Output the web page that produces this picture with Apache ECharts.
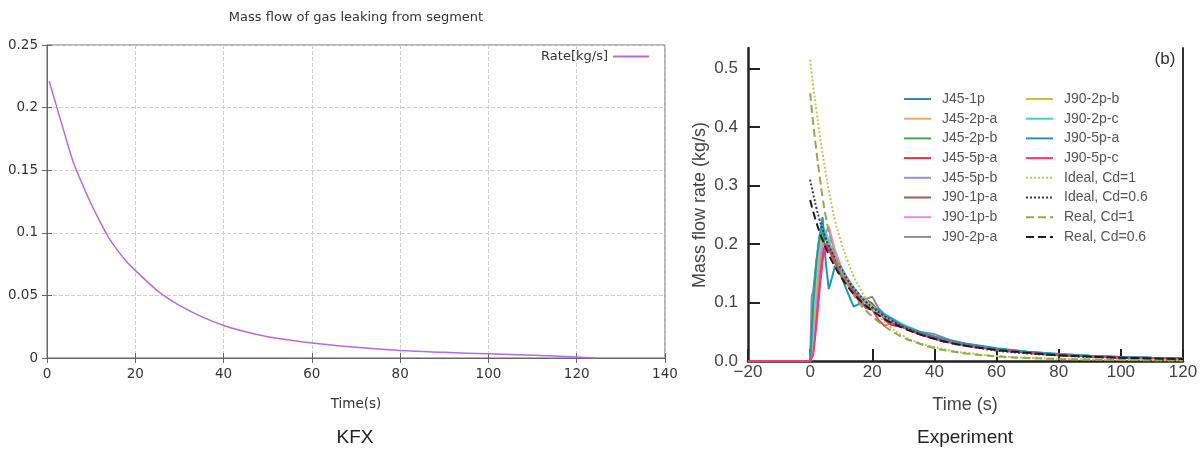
<!DOCTYPE html>
<html>
<head>
<meta charset="utf-8">
<script src="https://cdn.jsdelivr.net/npm/echarts@6/dist/echarts.min.js"></script>
<style>
html,body{margin:0;padding:0;background:#fff;}
#chart{width:1203px;height:452px;}
</style>
</head>
<body>
<div id="chart"></div>
<script>
// ---------- Left chart (KFX) ----------
const kfxTime = [0.5, 2, 4, 6, 8, 10, 12, 14, 16, 18, 20, 23, 26, 30, 35, 40, 45, 50, 55, 60, 70, 80, 90, 100, 110, 120, 124];
const kfxRate = [0.221, 0.203, 0.179, 0.156, 0.139, 0.123, 0.109, 0.096, 0.086, 0.077, 0.070, 0.060, 0.051, 0.042, 0.033, 0.026, 0.021, 0.017, 0.0143, 0.012, 0.0085, 0.006, 0.0045, 0.0033, 0.0022, 0.0008, 0.0];
const kfxXTicks = [0, 20, 40, 60, 80, 100, 120, 140];
const kfxYTicks = [0, 0.05, 0.1, 0.15, 0.2, 0.25];

// ---------- Right chart (Experiment) ----------
const expTime = [-20, -1, 0, 0.5, 1, 2, 3, 4, 5, 6, 7, 8, 10, 12, 14, 16, 18, 20, 22, 24, 26, 28, 30, 35, 40, 45, 50, 60, 70, 80, 90, 100, 110, 120];
const J45_1p  = [0,0,0,0.02,0.06,0.14,0.20,0.225,0.215,0.20,0.188,0.176,0.155,0.136,0.120,0.108,0.099,0.091,0.083,0.076,0.070,0.064,0.059,0.048,0.040,0.033,0.028,0.020,0.014,0.011,0.008,0.0065,0.005,0.0045];
const J45_2p_a= [0,0,0,0.01,0.05,0.12,0.18,0.21,0.215,0.205,0.19,0.178,0.157,0.138,0.121,0.107,0.097,0.088,0.082,0.075,0.069,0.063,0.058,0.047,0.039,0.032,0.027,0.019,0.014,0.010,0.008,0.006,0.005,0.004];
const J45_2p_b= [0,0,0,0.02,0.07,0.15,0.20,0.215,0.21,0.20,0.19,0.178,0.158,0.140,0.124,0.110,0.100,0.092,0.086,0.079,0.072,0.066,0.060,0.049,0.040,0.034,0.028,0.020,0.015,0.011,0.008,0.0065,0.005,0.0045];
const J45_5p_a= [0,0,0,0,0.02,0.08,0.14,0.185,0.20,0.19,0.18,0.17,0.15,0.132,0.118,0.100,0.092,0.090,0.088,0.070,0.062,0.060,0.057,0.046,0.038,0.032,0.027,0.019,0.014,0.010,0.008,0.006,0.005,0.004];
const J45_5p_b= [0,0,0,0.01,0.04,0.10,0.16,0.20,0.22,0.225,0.205,0.185,0.160,0.140,0.123,0.110,0.100,0.093,0.085,0.078,0.072,0.066,0.060,0.048,0.040,0.033,0.028,0.020,0.015,0.011,0.008,0.0065,0.005,0.0045];
const J90_1p_a= [0,0,0,0.03,0.08,0.16,0.21,0.22,0.21,0.195,0.18,0.168,0.148,0.132,0.118,0.108,0.105,0.098,0.085,0.072,0.064,0.062,0.058,0.048,0.040,0.033,0.028,0.020,0.015,0.011,0.008,0.0065,0.005,0.004];
const J90_1p_b= [0,0,0,0.01,0.05,0.12,0.18,0.21,0.22,0.23,0.21,0.19,0.160,0.140,0.125,0.112,0.100,0.090,0.082,0.076,0.070,0.064,0.058,0.048,0.040,0.033,0.028,0.020,0.015,0.011,0.008,0.0065,0.005,0.0045];
const J90_2p_a= [0,0,0,0.11,0.12,0.17,0.21,0.225,0.215,0.20,0.185,0.172,0.152,0.134,0.120,0.108,0.106,0.110,0.090,0.080,0.072,0.066,0.060,0.050,0.046,0.036,0.029,0.021,0.015,0.011,0.008,0.0065,0.005,0.0045];
const J90_2p_b= [0,0,0,0.02,0.06,0.14,0.195,0.215,0.21,0.20,0.19,0.178,0.158,0.140,0.125,0.112,0.102,0.094,0.086,0.079,0.072,0.066,0.061,0.050,0.041,0.034,0.028,0.020,0.015,0.011,0.008,0.0065,0.005,0.0045];
const J90_2p_c= [0,0,0,0.03,0.09,0.17,0.215,0.23,0.22,0.205,0.19,0.178,0.160,0.142,0.125,0.112,0.100,0.092,0.087,0.080,0.074,0.068,0.062,0.051,0.042,0.035,0.029,0.021,0.016,0.012,0.009,0.007,0.0055,0.005];
const J90_5p_a= [0,0,0,0.05,0.10,0.17,0.21,0.246,0.17,0.123,0.142,0.163,0.145,0.118,0.093,0.098,0.095,0.090,0.088,0.078,0.073,0.066,0.060,0.050,0.042,0.035,0.030,0.022,0.016,0.012,0.009,0.007,0.0055,0.005];
const J90_5p_c= [0,0,0,0,0.01,0.06,0.12,0.17,0.20,0.195,0.185,0.172,0.152,0.135,0.120,0.105,0.090,0.088,0.070,0.060,0.065,0.063,0.058,0.047,0.039,0.032,0.027,0.019,0.014,0.010,0.008,0.006,0.005,0.004];

const modelTime = [0, 1, 2, 3, 4, 5, 6, 7, 8, 10, 12, 14, 16, 18, 20, 23, 26, 30, 35, 40, 45, 50, 60, 70, 80, 90, 100, 110, 120];
const idealCd1  = [0.515,0.47,0.43,0.39,0.355,0.322,0.292,0.265,0.24,0.203,0.172,0.145,0.125,0.106,0.090,0.072,0.057,0.043,0.031,0.024,0.018,0.014,0.0085,0.0055,0.0038,0.0027,0.002,0.0015,0.0011];
const idealCd06 = [0.31,0.285,0.262,0.242,0.225,0.21,0.197,0.186,0.176,0.158,0.140,0.125,0.112,0.101,0.092,0.080,0.070,0.058,0.047,0.038,0.031,0.026,0.018,0.013,0.0095,0.007,0.0055,0.0043,0.0034];
const realCd1   = [0.458,0.405,0.36,0.318,0.28,0.248,0.222,0.20,0.182,0.153,0.131,0.113,0.098,0.086,0.076,0.063,0.052,0.040,0.030,0.022,0.017,0.013,0.008,0.005,0.0035,0.0025,0.0018,0.0013,0.001];
const realCd06  = [0.275,0.255,0.237,0.221,0.207,0.194,0.182,0.171,0.161,0.143,0.128,0.115,0.104,0.094,0.086,0.075,0.066,0.056,0.046,0.038,0.031,0.026,0.019,0.014,0.010,0.0075,0.0057,0.0044,0.0034];
const expXTicks = [-20, 0, 20, 40, 60, 80, 100, 120];
const expYTicks = [0, 0.1, 0.2, 0.3, 0.4, 0.5];

const expSeriesDefs = [
  ['J45-1p', J45_1p, '#3d80c0'],
  ['J45-2p-a', J45_2p_a, '#f3a46c'],
  ['J45-2p-b', J45_2p_b, '#42a852'],
  ['J45-5p-a', J45_5p_a, '#d8344c'],
  ['J45-5p-b', J45_5p_b, '#a08ed4'],
  ['J90-1p-a', J90_1p_a, '#9c5f58'],
  ['J90-1p-b', J90_1p_b, '#e88ad2'],
  ['J90-2p-a', J90_2p_a, '#8e8e8e'],
  ['J90-2p-b', J90_2p_b, '#c9c240'],
  ['J90-2p-c', J90_2p_c, '#3ccfdc'],
  ['J90-5p-a', J90_5p_a, '#2197ae'],
  ['J90-5p-c', J90_5p_c, '#ee3f6c']
];
const modelDefs = [
  ['Ideal, Cd=1', idealCd1, '#c4c455', 'dotted'],
  ['Ideal, Cd=0.6', idealCd06, '#3a3a58', 'dotted'],
  ['Real, Cd=1', realCd1, '#98a64c', 'dashed'],
  ['Real, Cd=0.6', realCd06, '#1e1e1e', 'dashed']
];

const zip = (xs, ys) => xs.map((x, i) => [x, ys[i]]);
const chart = echarts.init(document.getElementById('chart'));

const gnuFont = 'DejaVu Sans';
const armFont = 'Liberation Sans, Arial, sans-serif';

const series = [];
series.push({
  name: 'Rate[kg/s]', type: 'line', xAxisIndex: 0, yAxisIndex: 0,
  data: zip(kfxTime, kfxRate), symbol: 'none', smooth: 0.4,
  lineStyle: { color: '#b46be2', width: 1.5 }, itemStyle: { color: '#b46be2' }
});
expSeriesDefs.forEach(([n, d, c]) => series.push({
  name: n, type: 'line', xAxisIndex: 2, yAxisIndex: 2,
  data: zip(expTime, d), symbol: 'none',
  lineStyle: { color: c, width: 2 }, itemStyle: { color: c }
}));
modelDefs.forEach(([n, d, c, t]) => series.push({
  name: n, type: 'line', xAxisIndex: 2, yAxisIndex: 2,
  data: zip(modelTime, d), symbol: 'none', smooth: true,
  lineStyle: { color: c, width: 2, type: t }, itemStyle: { color: c }
}));

const legendText = { color: '#555', fontSize: 14, fontFamily: armFont, padding: [0, 0, 0, 6] };
const hideSym = { color: 'rgba(0,0,0,0)', borderWidth: 0, opacity: 0 };

chart.setOption({
  animation: false,
  backgroundColor: '#fff',
  grid: [
    { left: 47, top: 45, width: 618, height: 313, show: true, borderColor: '#666', borderWidth: 1, containLabel: false },
    { left: 748, top: 48, width: 435, height: 313, containLabel: false }
  ],
  legend: [
    { data: ['Rate[kg/s]'], right: 553, top: 50, orient: 'horizontal', align: 'right', padding: 0,
      itemWidth: 36, itemHeight: 14, itemStyle: hideSym,
      textStyle: { color: '#333', fontSize: 13, fontFamily: gnuFont }, selectedMode: false },
    { data: expSeriesDefs.slice(0, 8).map(d => d[0]), left: 903, top: 92, orient: 'vertical', padding: 0,
      itemWidth: 27, itemHeight: 14, itemGap: 5.7, itemStyle: hideSym, textStyle: legendText, selectedMode: false },
    { data: expSeriesDefs.slice(8).map(d => d[0]).concat(modelDefs.map(d => d[0])), left: 1025, top: 92, orient: 'vertical', padding: 0,
      itemWidth: 27, itemHeight: 14, itemGap: 5.7, itemStyle: hideSym, textStyle: legendText, selectedMode: false }
  ],
  xAxis: [
    { gridIndex: 0, type: 'value', min: 0, max: 140, interval: 20, position: 'bottom',
      axisLine: { show: true, lineStyle: { color: '#666' } },
      axisTick: { show: true, inside: true, length: 5, lineStyle: { color: '#666' } },
      axisLabel: { color: '#333', fontSize: 13.5, fontFamily: gnuFont, margin: 9 },
      splitLine: { show: true, lineStyle: { color: '#cfcfcf', type: 'dashed' } } },
    { gridIndex: 0, type: 'value', min: 0, max: 140, interval: 20, position: 'top',
      axisLine: { show: true, lineStyle: { color: '#666' } },
      axisTick: { show: true, inside: true, length: 5, lineStyle: { color: '#666' } },
      axisLabel: { show: false }, splitLine: { show: false } },
    { gridIndex: 1, type: 'value', min: -20, max: 120, interval: 20, position: 'bottom',
      axisLine: { show: true, onZero: false, lineStyle: { color: '#222', width: 2.5 } },
      axisTick: { show: true, inside: true, length: 12, lineStyle: { color: '#222', width: 2 } },
      axisLabel: { color: '#444', fontSize: 17, fontFamily: armFont, margin: 3,
        formatter: v => v < 0 ? '\u2212' + Math.abs(v) : String(v) },
      splitLine: { show: false } }
  ],
  yAxis: [
    { gridIndex: 0, type: 'value', min: 0, max: 0.25, interval: 0.05, position: 'left',
      axisLine: { show: true, lineStyle: { color: '#666' } },
      axisTick: { show: true, inside: true, length: 5, lineStyle: { color: '#666' } },
      axisLabel: { color: '#333', fontSize: 13.5, fontFamily: gnuFont, margin: 9 },
      splitLine: { show: true, lineStyle: { color: '#cfcfcf', type: 'dashed' } } },
    { gridIndex: 0, type: 'value', min: 0, max: 0.25, interval: 0.05, position: 'right',
      axisLine: { show: true, lineStyle: { color: '#666' } },
      axisTick: { show: true, inside: true, length: 5, lineStyle: { color: '#666' } },
      axisLabel: { show: false }, splitLine: { show: false } },
    { gridIndex: 1, type: 'value', min: 0, max: 0.535, position: 'left',
      axisLine: { show: true, onZero: false, lineStyle: { color: '#222', width: 2.5 } },
      axisTick: { show: true, inside: true, length: 12, lineStyle: { color: '#222', width: 2 }, customValues: expYTicks },
      axisLabel: { color: '#444', fontSize: 17, fontFamily: armFont, margin: 10, customValues: expYTicks,
        formatter: v => v.toFixed(1) },
      splitLine: { show: false } },
    { gridIndex: 1, type: 'value', min: 0, max: 0.535, position: 'right',
      axisLine: { show: true, onZero: false, lineStyle: { color: '#333', width: 2 } },
      axisTick: { show: false }, axisLabel: { show: false }, splitLine: { show: false } }
  ],
  graphic: [
    { type: 'text', x: 356, y: 18, style: { text: 'Mass flow of gas leaking from segment', fill: '#333', fontSize: 13, fontFamily: gnuFont, align: 'center', verticalAlign: 'middle' } },
    { type: 'text', x: 356, y: 404, style: { text: 'Time(s)', fill: '#333', fontSize: 13.5, fontFamily: gnuFont, align: 'center', verticalAlign: 'middle' } },
    { type: 'text', x: 355, y: 438, style: { text: 'KFX', fill: '#222', fontSize: 19, fontFamily: armFont, align: 'center', verticalAlign: 'middle' } },
    { type: 'text', x: 965, y: 405, style: { text: 'Time (s)', fill: '#444', fontSize: 18, fontFamily: armFont, align: 'center', verticalAlign: 'middle' } },
    { type: 'text', x: 965, y: 438, style: { text: 'Experiment', fill: '#222', fontSize: 19, fontFamily: armFont, align: 'center', verticalAlign: 'middle' } },
    { type: 'text', x: 1165, y: 59, style: { text: '(b)', fill: '#333', fontSize: 17, fontFamily: armFont, align: 'center', verticalAlign: 'middle' } },
    { type: 'text', x: 700, y: 205, rotation: Math.PI / 2, style: { text: 'Mass flow rate (kg/s)', fill: '#444', fontSize: 18, fontFamily: armFont, align: 'center', verticalAlign: 'middle' } }
  ],
  series: series
});
</script>
</body>
</html>
